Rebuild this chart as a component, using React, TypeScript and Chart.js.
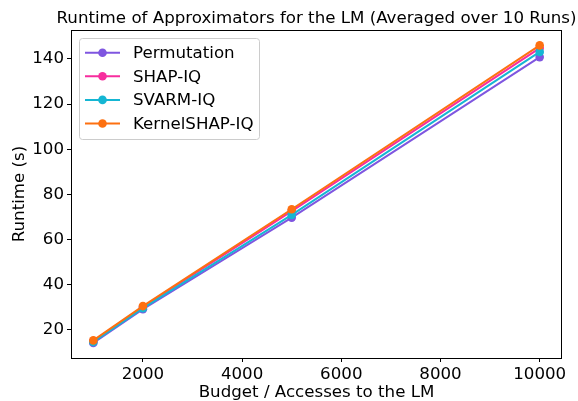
import React, { useEffect, useRef } from "react";
import { Chart, registerables } from "chart.js";

Chart.register(...registerables);

const budgets = [1000, 2000, 5000, 10000];
const seriesNames = ["Permutation", "SHAP-IQ", "SVARM-IQ", "KernelSHAP-IQ"];
const permutation = [14.2, 29.1, 69.7, 140.8];
const shapIq = [15.0, 30.1, 72.6, 144.8];
const svarmIq = [14.6, 29.6, 70.9, 143.1];
const kernelShapIq = [15.3, 30.5, 73.4, 146.0];
const seriesValues = [permutation, shapIq, svarmIq, kernelShapIq];
const seriesColors = ["#7f56e0", "#f72d9e", "#15b6d3", "#fd7010"];
const xTicks = [2000, 4000, 6000, 8000, 10000];
const yTicks = [20, 40, 60, 80, 100, 120, 140];

const chartTitle = "Runtime of Approximators for the LM (Averaged over 10 Runs)";
const xTitle = "Budget / Accesses to the LM";
const yTitle = "Runtime (s)";

const FAMILY = '"DejaVu Sans", sans-serif';
const FS = 16.67;

const decorPlugin = {
  id: "decor",
  afterDraw(chart: any) {
    const { ctx, chartArea: a } = chart;
    ctx.save();
    // frame
    ctx.strokeStyle = "#000";
    ctx.lineWidth = 1;
    const x0 = Math.floor(a.left) + 0.5;
    const y0 = Math.floor(a.top) + 0.5;
    const x1 = Math.floor(a.right) - 0.5;
    const y1 = Math.floor(a.bottom) + 0.5;
    ctx.strokeRect(x0, y0, x1 - x0, y1 - y0);

    const cx = (a.left + a.right) / 2;
    ctx.fillStyle = "#000";
    ctx.font = `${FS}px ${FAMILY}`;
    ctx.textAlign = "center";
    ctx.textBaseline = "alphabetic";
    ctx.fillText(chartTitle, cx, 22.5);
    ctx.fillText(xTitle, cx, 396.5);

    ctx.save();
    ctx.translate(24, (a.top + a.bottom) / 2);
    ctx.rotate(-Math.PI / 2);
    ctx.fillText(yTitle, 0, 0);
    ctx.restore();

    // legend
    const lx = 79.5, ly = 38.5, lw = 180, lh = 101, r = 3;
    ctx.beginPath();
    ctx.moveTo(lx + r, ly);
    ctx.lineTo(lx + lw - r, ly);
    ctx.arcTo(lx + lw, ly, lx + lw, ly + r, r);
    ctx.lineTo(lx + lw, ly + lh - r);
    ctx.arcTo(lx + lw, ly + lh, lx + lw - r, ly + lh, r);
    ctx.lineTo(lx + r, ly + lh);
    ctx.arcTo(lx, ly + lh, lx, ly + lh - r, r);
    ctx.lineTo(lx, ly + r);
    ctx.arcTo(lx, ly, lx + r, ly, r);
    ctx.closePath();
    ctx.fillStyle = "rgba(255,255,255,0.8)";
    ctx.fill();
    ctx.strokeStyle = "#cccccc";
    ctx.lineWidth = 1;
    ctx.stroke();

    ctx.textAlign = "left";
    ctx.textBaseline = "middle";
    seriesNames.forEach((name, i) => {
      const yy = 52.7 + i * 23.6;
      ctx.strokeStyle = seriesColors[i];
      ctx.lineWidth = 2;
      ctx.beginPath();
      ctx.moveTo(85, yy);
      ctx.lineTo(120, yy);
      ctx.stroke();
      ctx.fillStyle = seriesColors[i];
      ctx.beginPath();
      ctx.arc(102.5, yy, 4.3, 0, Math.PI * 2);
      ctx.fill();
      ctx.fillStyle = "#000";
      ctx.fillText(name, 133, yy + 1);
    });
    ctx.restore();
  },
};

export default function App() {
  const ref = useRef<HTMLCanvasElement | null>(null);

  useEffect(() => {
    if (!ref.current) return;
    const datasets = seriesNames.map((name, i) => ({
      label: name,
      data: budgets.map((b, j) => ({ x: b, y: seriesValues[i][j] })),
      borderColor: seriesColors[i],
      backgroundColor: seriesColors[i],
      pointBackgroundColor: seriesColors[i],
      pointBorderWidth: 0,
      pointRadius: 4.3,
      borderWidth: 2,
      tension: 0,
      order: seriesNames.length - 1 - i,
    }));
    const tickFont = { family: FAMILY, size: FS };
    const chart = new Chart(ref.current, {
      type: "line",
      data: { datasets },
      plugins: [decorPlugin],
      options: {
        animation: false,
        responsive: true,
        maintainAspectRatio: false,
        layout: { padding: { top: 30, right: 16, left: 0, bottom: 0 } },
        plugins: {
          legend: { display: false },
          title: { display: false },
          tooltip: { enabled: false },
        },
        scales: {
          x: {
            type: "linear",
            min: 550,
            max: 10450,
            afterBuildTicks: (s: any) => {
              s.ticks = xTicks.map((v) => ({ value: v }));
            },
            afterFit: (s: any) => {
              s.height = 43;
              s.paddingLeft = 0;
              s.paddingRight = 0;
            },
            ticks: {
              font: tickFont,
              color: "#000",
              padding: 3,
              maxRotation: 0,
              autoSkip: false,
              callback: (v: any) => String(v),
            },
            grid: {
              display: true,
              drawOnChartArea: false,
              drawTicks: true,
              tickLength: 4,
              tickColor: "#000",
              tickWidth: 1,
            },
            border: { display: false },
          },
          y: {
            type: "linear",
            min: 7.5,
            max: 152.8,
            afterBuildTicks: (s: any) => {
              s.ticks = yTicks.map((v) => ({ value: v }));
            },
            afterFit: (s: any) => {
              s.width = 71;
              s.paddingTop = 0;
              s.paddingBottom = 0;
            },
            ticks: {
              font: tickFont,
              color: "#000",
              padding: 3,
              autoSkip: false,
              callback: (v: any) => String(v),
            },
            grid: {
              display: true,
              drawOnChartArea: false,
              drawTicks: true,
              tickLength: 4,
              tickColor: "#000",
              tickWidth: 1,
            },
            border: { display: false },
          },
        },
      },
    } as any);
    return () => chart.destroy();
  }, []);

  return (
    <div style={{ position: "fixed", left: 0, top: 0, width: 578, height: 401, background: "#fff" }}>
      <canvas ref={ref} />
    </div>
  );
}
